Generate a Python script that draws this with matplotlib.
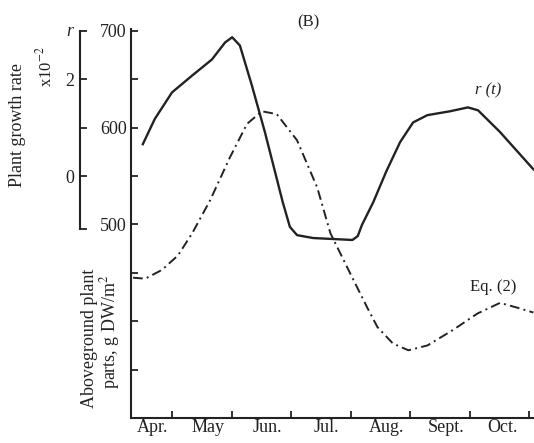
"""
plot seasonal curves: plant growth rate r(t) and aboveground biomass (Eq. 2)
"""
import matplotlib
matplotlib.use('Agg')
import matplotlib.pyplot as plt

plt.rcParams['font.family'] = ['Liberation Serif', 'DejaVu Serif']
plt.rcParams['mathtext.fontset'] = 'stix'

# x in months counted from 1 April
# growth rate r(t), units of 1e-2
r_month = [0.51, 0.71, 1.00, 1.34, 1.67, 1.89, 2.01, 2.14, 2.34, 2.56, 2.86, 2.98,
           3.10, 3.37, 4.03, 4.12, 4.19, 4.38, 4.60, 4.83, 5.05, 5.29, 5.67, 5.97,
           6.14, 6.51, 7.07]
r_val = [0.66, 1.18, 1.73, 2.08, 2.41, 2.76, 2.87, 2.70, 1.88, 0.91, -0.54, -1.05,
         -1.22, -1.28, -1.32, -1.24, -1.01, -0.54, 0.10, 0.70, 1.11, 1.26, 1.34, 1.42,
         1.36, 0.91, 0.14]

# aboveground plant parts, g DW/m2 (Eq. (2))
b_month = [0.345, 0.55, 0.83, 1.10, 1.34, 1.64, 1.97, 2.26, 2.51, 2.76, 3.10, 3.44,
           3.66, 3.94, 4.28, 4.45, 4.71, 4.97, 5.29, 5.72, 6.13, 6.51, 6.80, 7.07]
b_val = [445, 444, 453, 468, 491, 525, 569, 604, 617, 614, 587, 538,
         491, 456, 414, 394, 377, 370, 375, 391, 408, 419, 414, 409]

month_pos = [0.67, 1.6, 2.6, 3.6, 4.6, 5.6, 6.55]
month_names = ['Apr.', 'May', 'Jun.', 'Jul.', 'Aug.', 'Sept.', 'Oct.']

col = '#222222'
fs = 13

fig = plt.figure(figsize=(5.34, 4.43), dpi=100)
ax = fig.add_axes([0.2453, 0.0564, 0.7547, 0.8781])

ax.plot(b_month, b_val, color=col, lw=1.4, ls=(0, (5, 2.2, 1, 2.2)))
ax.set_xlim(0.311, 7.08)
ax.set_ylim(300, 702)
ax.spines['top'].set_visible(False)
ax.spines['right'].set_visible(False)
for s in ['left', 'bottom']:
    ax.spines[s].set_color(col)
    ax.spines[s].set_linewidth(1.5)

ax.set_yticks(range(300, 701, 50))
ax.set_yticklabels(['', '', '', '', '500', '', '600', '', '700'])
ax.tick_params(axis='y', direction='in', length=5, width=1.3, color=col,
               labelsize=fs, pad=3, labelcolor=col)

ax.set_xticks([1, 2, 3, 4, 5, 6, 7])
ax.set_xticklabels([])
ax.set_xticks(month_pos, minor=True)
ax.set_xticklabels(month_names, minor=True)
ax.tick_params(axis='x', which='major', direction='in', length=5, width=1.3, color=col)
ax.tick_params(axis='x', which='minor', length=0, labelsize=fs, pad=1, labelcolor=col)

# second scale: growth rate
ax2 = ax.twinx()
ax2.plot(r_month, r_val, color=col, lw=1.7)
ax2.set_ylim(-5, 3.04)
for s in ['top', 'right', 'bottom']:
    ax2.spines[s].set_visible(False)
ax2.spines['left'].set_position(('axes', -0.1266))
ax2.spines['left'].set_bounds(-1.1, 3)
ax2.spines['left'].set_color(col)
ax2.spines['left'].set_linewidth(1.5)
ax2.yaxis.set_ticks_position('left')
ax2.yaxis.set_label_position('left')
ax2.set_yticks([-1.1, 0, 1, 2, 3])
ax2.set_yticklabels(['', '0', '', '2', ''])
ax2.tick_params(axis='y', direction='in', length=5, width=1.3, color=col,
                labelsize=fs, pad=4, labelcolor=col)

W, H = 534.0, 443.0
def ftext(x, y, s, **kw):
    fig.text(x / W, 1 - y / H, s, color=col, ha='center', va='center', **kw)

ftext(70, 31, 'r', fontsize=fs, style='italic')
ftext(18, 125, 'Plant growth rate', fontsize=fs, rotation=90)
ftext(45, 67, 'x10$^{-2}$', fontsize=fs - 1, rotation=90)
ftext(90, 338, 'Aboveground plant', fontsize=fs, rotation=90)
ftext(110, 332, 'parts, g DW/m$^2$', fontsize=fs, rotation=90)
ftext(308, 22, '(B)', fontsize=fs - 1)
ftext(488, 90, 'r (t)', fontsize=fs - 1, style='italic')
ftext(493, 287, 'Eq. (2)', fontsize=fs - 1)

fig.savefig('out.png', dpi=100)
